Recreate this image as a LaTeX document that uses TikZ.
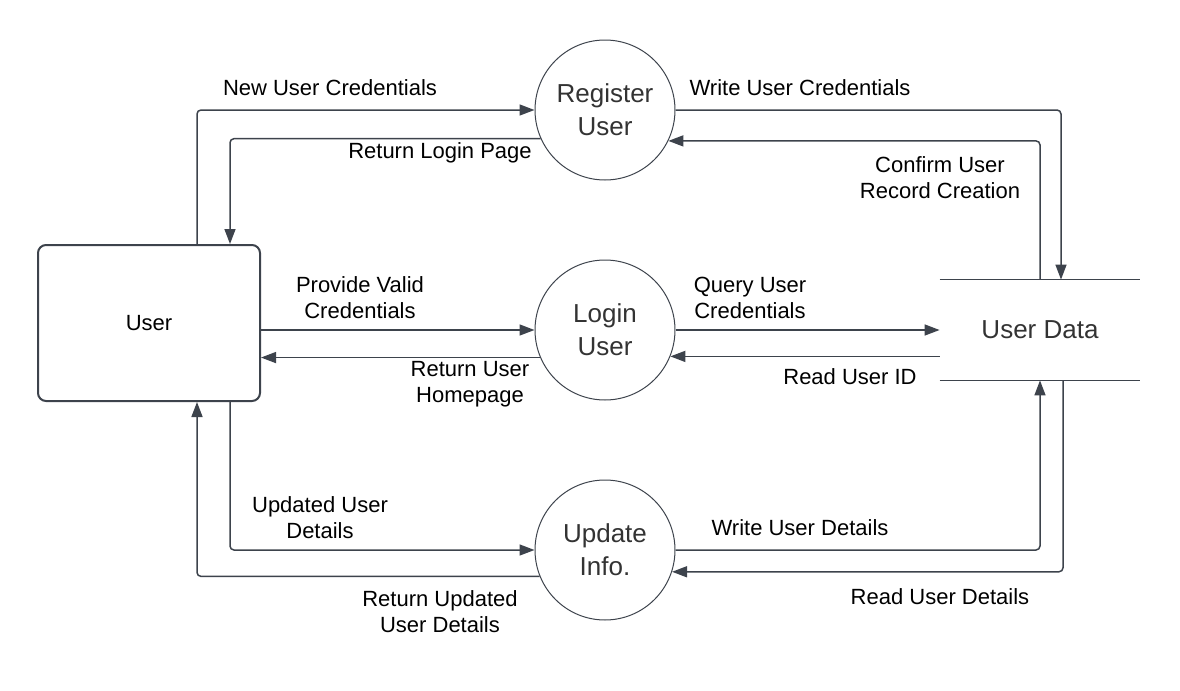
\documentclass[tikz,border=0pt]{standalone}
\usepackage{fontspec}
\setmainfont{Liberation Sans}
\usetikzlibrary{arrows.meta}
\definecolor{linegray}{HTML}{3D434C}
\begin{document}
\begin{tikzpicture}[x=0.5pt,y=-0.5pt,
    flow/.style={draw=linegray,line width=0.75pt,rounded corners=2pt,
      -{Triangle[length=7.5pt,width=5.5pt]}},
    proc/.style={circle,draw=linegray,line width=0.5pt,minimum size=70pt,
      inner sep=0pt,align=center,font=\fontsize{13}{16.5}\selectfont,text=black!80},
    lbl/.style={align=center,font=\fontsize{11}{13}\selectfont}]
                    \useasboundingbox (0,0) rectangle (1180,691);
                    \node[draw=linegray,line width=1pt,rounded corners=4pt,
                      minimum width=111pt,minimum height=78pt,
                      font=\fontsize{11}{13}\selectfont] (user) at (149,323) {User};
                    \node[proc] (reg) at (605,110) {Register\\User};
                    \node[proc] (login) at (605,330) {Login\\User};
                    \node[proc] (upd) at (605,550) {Update\\Info.};
                    \node[minimum width=100pt,minimum height=50pt,inner sep=0pt,
                      font=\fontsize{13}{15}\selectfont,text=black!80] (store) at (1040,330) {User Data};
                    \draw[linegray,line width=0.75pt] (store.north west) -- (store.north east)
                        (store.south west) -- (store.south east);
                    \draw[flow] ([xshift=24pt]user.north) |- (reg.west);
                    \draw[flow] (reg.204) -| ([xshift=40.5pt]user.north);
                    \draw[flow] (reg.east) -| ([xshift=10.5pt]store.north);
                    \draw[flow] (store.north) |- (reg.-26);
                    \draw[flow] (user.east |- login.west) -- (login.west);
                    \draw[flow] (login.203) -- (user.east |- login.203);
                    \draw[flow] (login.east) -- (store.west |- login.east);
                    \draw[flow] (store.west |- login.-22) -- (login.-22);
                    \draw[flow] ([xshift=40.5pt]user.south) |- (upd.west);
                    \draw[flow] (upd.202) -| ([xshift=24pt]user.south);
                    \draw[flow] (upd.east) -| (store.south);
                    \draw[flow] ([xshift=11.5pt]store.south) |- (upd.-18);
                    \node[lbl] (newcred) at (330,88) {New User Credentials};
                    \node[lbl] (retlogin) at (440,153) {Return Login Page};
                    \node[lbl] (writecred) at (800,88) {Write User Credentials};
                    \node[lbl] (confirm) at (940,178) {Confirm User\\Record Creation};
                    \node[lbl] (provide) at (360,298) {Provide Valid\\Credentials};
                    \node[lbl] (rethome) at (470,384) {Return User\\Homepage};
                    \node[lbl] (query) at (750,298) {Query User\\Credentials};
                    \node[lbl] (readid) at (850,377) {Read User ID};
                    \node[lbl] (updated) at (320,518) {Updated User\\Details};
                    \node[lbl] (retupd) at (440,612) {Return Updated\\User Details};
                    \node[lbl] (writedet) at (800,528) {Write User Details};
                    \node[lbl] (readdet) at (940,597) {Read User Details};
                \end{tikzpicture}
\end{document}
